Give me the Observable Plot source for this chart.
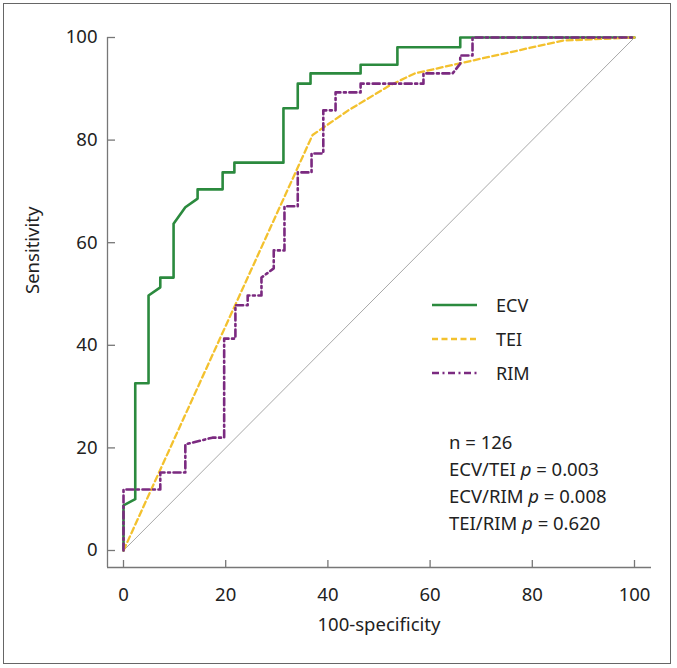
<!DOCTYPE html>
<html>
<head>
<meta charset="utf-8">
<script src="https://cdn.jsdelivr.net/npm/d3@7"></script>
<script src="https://cdn.jsdelivr.net/npm/@observablehq/plot@0.6"></script>
<style>
  body { margin: 0; background: #fff; font-family: "Noto Sans", sans-serif; color: #222; }
  #wrap { position: relative; width: 677px; height: 668px; overflow: hidden; }
  #frame { position: absolute; left: 3px; top: 3px; width: 668px; height: 661px; border: 1.5px solid #666; box-sizing: border-box; pointer-events: none; }
  #legend { position: absolute; left: 432px; top: 288px; font-size: 18px; }
  .row { display: flex; align-items: center; height: 34px; }
  .row span { margin-left: 18px; }
  #notes { position: absolute; left: 449px; top: 428px; font-size: 18.5px; line-height: 27px; white-space: nowrap; }
</style>
</head>
<body>
<div id="wrap">
  <div id="chart"></div>
  <div id="legend"></div>
  <div id="notes"></div>
  <div id="frame"></div>
</div>
<script>
// ---- Data ----
const xTicks = [0, 20, 40, 60, 80, 100];
const yTicks = [0, 20, 40, 60, 80, 100];
const xLabel = "100-specificity";
const yLabel = "Sensitivity";

const seriesNames = ["ECV", "TEI", "RIM"];
const seriesColors = ["#2b8a3e", "#f3c12e", "#7b2a80"];

const ecvX = [0, 0, 2.3, 2.3, 4.9, 4.9, 7.2, 7.2, 9.8, 9.8, 12.1, 14.5, 14.5, 19.4, 19.4, 21.7, 21.7, 31.3, 31.3, 34.1, 34.1, 36.6, 36.6, 46.4, 46.4, 53.6, 53.6, 65.9, 65.9, 100];
const ecvY = [0, 8.8, 10.0, 32.6, 32.6, 49.7, 51.3, 53.2, 53.2, 63.7, 66.9, 68.6, 70.4, 70.4, 73.7, 73.7, 75.6, 75.6, 86.2, 86.2, 91.0, 91.0, 93.0, 93.0, 94.7, 94.7, 98.1, 98.1, 100, 100];

const teiX = [0, 37, 44, 52, 57, 66, 86, 100];
const teiY = [0, 81, 85.8, 90.6, 93, 95, 99.4, 100];

const rimX = [0, 0, 7.2, 7.2, 12.1, 12.1, 17.4, 19.7, 19.7, 21.9, 21.9, 24.3, 24.3, 27.0, 27.0, 29.4, 29.4, 31.5, 31.5, 34.1, 34.1, 36.8, 36.8, 39.1, 39.1, 41.5, 41.5, 46.4, 46.4, 58.7, 58.7, 64.4, 65.9, 65.9, 68.3, 68.3, 100];
const rimY = [0, 11.9, 11.9, 15.2, 15.2, 20.7, 22.0, 22.0, 41.3, 41.3, 47.8, 47.8, 49.7, 49.7, 53.2, 55.0, 58.5, 58.5, 67.1, 67.1, 73.7, 73.7, 77.4, 77.4, 85.8, 85.8, 89.3, 89.3, 91.0, 91.0, 93.0, 93.0, 94.9, 96.5, 96.5, 100, 100];

const refX = [0, 100];
const refY = [0, 100];

const notes = ["n = 126", "ECV/TEI <i>p</i> = 0.003", "ECV/RIM <i>p</i> = 0.008", "TEI/RIM <i>p</i> = 0.620"];

// ---- Build tables ----
const toRows = (xs, ys) => xs.map((x, i) => ({x, y: ys[i]}));
const ecv = toRows(ecvX, ecvY);
const tei = toRows(teiX, teiY);
const rim = toRows(rimX, rimY);
const ref = toRows(refX, refY);

const W = 677, H = 668;
const mL = 123, mR = 43, mT = 37, mB = 118;
const fw = W - mL - mR, fh = H - mT - mB;
const axisColor = "#777";

const styles = [
  {stroke: seriesColors[0], strokeWidth: 2.6},
  {stroke: seriesColors[1], strokeWidth: 2.3, strokeDasharray: "6,3.5"},
  {stroke: seriesColors[2], strokeWidth: 2.6, strokeDasharray: "7,3.5,2,3.5"}
];

const chart = Plot.plot({
  width: W, height: H,
  marginLeft: mL, marginRight: mR, marginTop: mT, marginBottom: mB,
  style: {fontFamily: "'Noto Sans', sans-serif", fontSize: "18px", color: "#222", background: "transparent"},
  x: {domain: [0, 100]},
  y: {domain: [0, 100]},
  marks: [
    Plot.ruleX([0], {dx: -16, insetBottom: -17, stroke: axisColor, strokeWidth: 1.3}),
    Plot.ruleY([0], {dy: 17, insetLeft: -16, insetRight: -17, stroke: axisColor, strokeWidth: 1.3}),
    Plot.ruleY(yTicks, {y: d => d, dx: -16, insetRight: fw - 8, stroke: axisColor, strokeWidth: 1.3}),
    Plot.ruleX(xTicks, {x: d => d, dy: 17, insetTop: fh - 7, stroke: axisColor, strokeWidth: 1.3}),
    Plot.axisX({ticks: xTicks, tickSize: 0, tickPadding: 37, label: null, fontSize: 18.5}),
    Plot.axisY({ticks: yTicks, tickSize: 0, tickPadding: 26, label: null, fontSize: 18.5}),
    Plot.text([xLabel], {frameAnchor: "bottom", dy: 80, fontSize: 18.5, fill: "#222"}),
    Plot.text([yLabel], {frameAnchor: "left", dx: -90, rotate: -90, fontSize: 18.5, fill: "#222"}),
    Plot.line(ref, {x: "x", y: "y", stroke: "#a8a8a8", strokeWidth: 1}),
    Plot.line(ecv, {x: "x", y: "y", ...styles[0]}),
    Plot.line(tei, {x: "x", y: "y", ...styles[1]}),
    Plot.line(rim, {x: "x", y: "y", ...styles[2]})
  ]
});
document.getElementById("chart").appendChild(chart);

const legend = document.getElementById("legend");
seriesNames.forEach((name, i) => {
  const s = styles[i];
  const row = document.createElement("div");
  row.className = "row";
  row.innerHTML = `<svg width="46" height="34"><line x1="0" x2="45" y1="17" y2="17" stroke="${s.stroke}" stroke-width="${s.strokeWidth}" ${s.strokeDasharray ? `stroke-dasharray="${s.strokeDasharray}"` : ""}/></svg><span>${name}</span>`;
  legend.appendChild(row);
});

document.getElementById("notes").innerHTML = notes.map(t => `<div>${t}</div>`).join("");
</script>
</body>
</html>
